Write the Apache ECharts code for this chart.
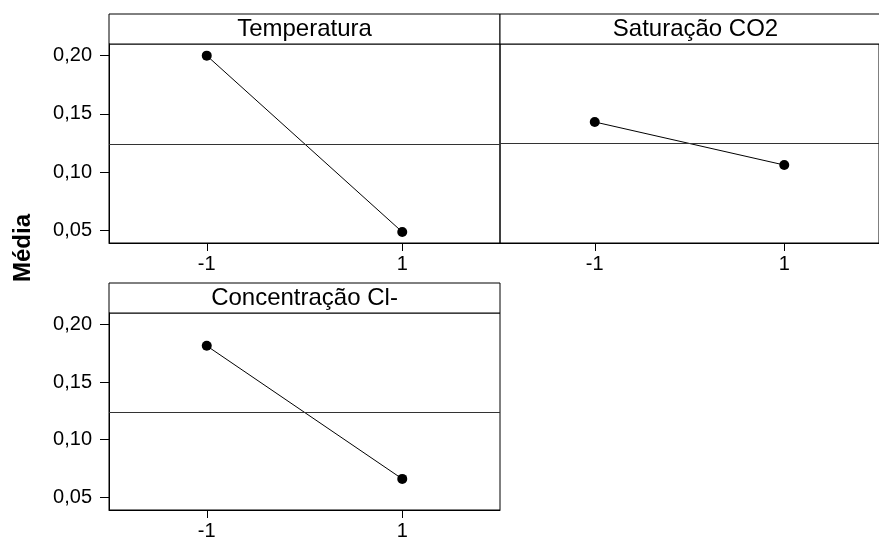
<!DOCTYPE html>
<html>
<head>
<meta charset="utf-8">
<script src="https://cdn.jsdelivr.net/npm/echarts@6/dist/echarts.min.js"></script>
<style>
  html, body { margin: 0; padding: 0; background: #fff; }
  #chart { width: 879px; height: 542px; }
</style>
</head>
<body>
<div id="chart"></div>
<script>
// Factor levels and mean response per level (main effects)
const levels = ['-1', '1'];
const factorNames = ['Temperatura', 'Saturação CO2', 'Concentração Cl-'];
const tempMeans = [0.200, 0.0485];
const co2Means = [0.143, 0.106];
const clMeans = [0.1815, 0.066];
const yTickValues = [0.05, 0.10, 0.15, 0.20];
const yMin = 0.039;
const yMax = 0.21;

const FONT = '"Liberation Sans", Arial, sans-serif';

// Panel layout: [left, top, width, height] of each plotting area
const panels = [
  { left: 109, top: 44, width: 391, height: 199, values: tempMeans, yLabels: true },
  { left: 500, top: 44, width: 391, height: 199, values: co2Means, yLabels: false },
  { left: 109, top: 313, width: 391, height: 197, values: clMeans, yLabels: true }
];
const stripHeight = 30;

const fmt = v => v.toFixed(2).replace('.', ',');
const mean = arr => arr.reduce((a, b) => a + b, 0) / arr.length;

const grids = [], xAxes = [], yAxes = [], series = [], graphics = [];

panels.forEach((p, i) => {
  grids.push({
    left: p.left, top: p.top, width: p.width, height: p.height,
    show: true, borderColor: '#000', borderWidth: 1, backgroundColor: 'transparent'
  });
  xAxes.push({
    type: 'category', gridIndex: i, data: levels, boundaryGap: true,
    axisLine: { show: true, lineStyle: { color: '#000', width: 1 } },
    axisTick: { show: true, alignWithLabel: true, length: 8, lineStyle: { color: '#000' } },
    axisLabel: { color: '#000', fontFamily: FONT, fontSize: 20, margin: 11 },
    splitLine: { show: false }
  });
  yAxes.push({
    type: 'value', gridIndex: i, min: yMin, max: yMax,
    axisLine: { show: p.yLabels, lineStyle: { color: '#000', width: 1 } },
    axisTick: { show: p.yLabels, length: 9, customValues: yTickValues, lineStyle: { color: '#000' } },
    axisLabel: {
      show: p.yLabels, customValues: yTickValues, formatter: fmt,
      color: '#000', fontFamily: FONT, fontSize: 20, margin: 17
    },
    splitLine: { show: false }
  });
  series.push({
    type: 'line', xAxisIndex: i, yAxisIndex: i, data: p.values,
    symbol: 'circle', symbolSize: 10,
    itemStyle: { color: '#000' },
    lineStyle: { color: '#000', width: 1 },
    animation: false, silent: true,
    markLine: {
      silent: true, symbol: 'none', animation: false, precision: 6,
      label: { show: false },
      lineStyle: { color: '#333', width: 1, type: 'solid' },
      data: [{ yAxis: mean(p.values) }]
    }
  });
  // Header strip with the factor name
  graphics.push({
    type: 'rect', silent: true,
    shape: { x: p.left, y: p.top - stripHeight, width: p.width, height: stripHeight },
    style: { fill: '#fff', stroke: '#000', lineWidth: 1 }
  });
  graphics.push({
    type: 'text', silent: true,
    x: p.left + p.width / 2, y: p.top - stripHeight / 2,
    style: {
      text: factorNames[i], fill: '#000', font: '24px ' + FONT,
      align: 'center', verticalAlign: 'middle'
    }
  });
});

// Shared y-axis title
graphics.push({
  type: 'text', silent: true, x: 23, y: 248, rotation: Math.PI / 2,
  style: {
    text: 'Média', fill: '#000', font: 'bold 24px ' + FONT,
    align: 'center', verticalAlign: 'middle'
  }
});

const chart = echarts.init(document.getElementById('chart'), null, { renderer: 'canvas' });
chart.setOption({
  animation: false,
  backgroundColor: '#fff',
  grid: grids,
  xAxis: xAxes,
  yAxis: yAxes,
  series: series,
  graphic: graphics
});
</script>
</body>
</html>
